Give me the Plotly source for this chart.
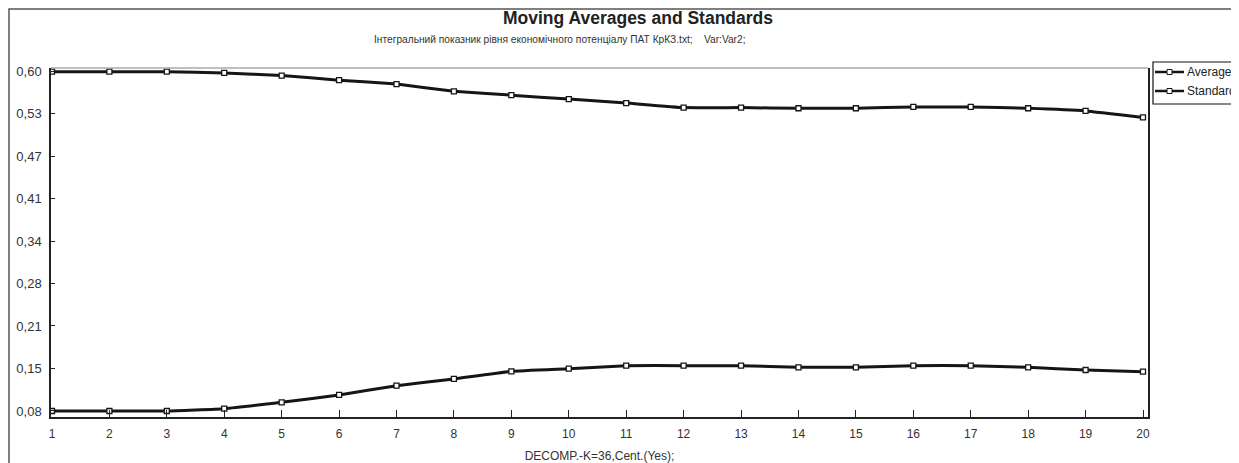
import numpy as np
import plotly.graph_objects as go

# ---- data ----
steps = list(range(1, 21))
average = [0.599, 0.599, 0.599, 0.597, 0.593, 0.586, 0.580, 0.569, 0.563, 0.557,
           0.551, 0.544, 0.544, 0.543, 0.543, 0.545, 0.545, 0.543, 0.539, 0.529]
standard = [0.080, 0.080, 0.080, 0.0835, 0.0933, 0.1045, 0.1187, 0.129, 0.1407, 0.1447,
            0.1493, 0.1493, 0.1493, 0.1468, 0.1468, 0.1493, 0.1493, 0.1468, 0.1427, 0.1402]
y_tick_text = ["0,08", "0,15", "0,21", "0,28", "0,34", "0,41", "0,47", "0,53", "0,60"]
x_tick_text = [str(s) for s in steps]
series_names = ["Average", "Standard"]

title = "Moving Averages and Standards"
subtitle = "Інтегральний показник рівня економічного потенціалу ПАТ КрКЗ.txt;    Var:Var2;"
x_title = "DECOMP.-K=36,Cent.(Yes);"

FONT = "Liberation Sans, Arial, sans-serif"
NARROW = "Liberation Sans Narrow, Arial Narrow, Liberation Sans, sans-serif"
OFF = 8                      # page body margin
W, H = 1239 - OFF, 463 - OFF
ml, mr, mt, mb = 43, 91, 60, 46
pw, ph = W - ml - mr, H - mt - mb

def px_x(p):                 # screenshot pixel -> paper x
    return (p - OFF - ml) / pw

def px_y(p):                 # screenshot pixel -> paper y
    return (H - mb - (p - OFF)) / ph

fig = go.Figure()
for name, vals in zip(series_names, [average, standard]):
    fig.add_trace(go.Scatter(
        x=steps, y=vals, name=name, mode="lines+markers",
        line=dict(color="#151515", width=3, shape="spline", smoothing=0.3),
        marker=dict(symbol="square", size=5, color="white",
                    line=dict(color="#151515", width=1.3)),
        showlegend=False,
    ))

y_ticks = np.linspace(0.08, 0.60, len(y_tick_text))

shapes = [
    dict(type="line", xref="paper", yref="paper", x0=0, x1=1, y0=1, y1=1,
         line=dict(color="#aaa", width=1.5)),
    dict(type="rect", xref="paper", yref="paper",
         x0=px_x(9), x1=px_x(1260), y0=px_y(9), y1=px_y(480),
         line=dict(color="#555", width=1.5), layer="below"),
    # legend box
    dict(type="rect", xref="paper", yref="paper",
         x0=px_x(1153), x1=px_x(1260), y0=px_y(62), y1=px_y(104),
         line=dict(color="#111", width=1.2), fillcolor="white"),
]
annotations = [
    dict(text="<b>" + title + "</b>", xref="paper", yref="paper",
         x=px_x(638), y=px_y(18), xanchor="center", yanchor="middle",
         showarrow=False, font=dict(family=FONT, size=17.5, color="#222")),
    dict(text=subtitle, xref="paper", yref="paper",
         x=px_x(560), y=px_y(40), xanchor="center", yanchor="middle",
         showarrow=False, font=dict(family=FONT, size=10.2, color="#333")),
]
for i, name in enumerate(series_names):
    yy = 72 + 19 * i
    shapes.append(dict(type="line", xref="paper", yref="paper",
                       x0=px_x(1155), x1=px_x(1184), y0=px_y(yy), y1=px_y(yy),
                       line=dict(color="#151515", width=2.5)))
    shapes.append(dict(type="rect", xref="paper", yref="paper",
                       x0=px_x(1167), x1=px_x(1172), y0=px_y(yy - 2.5), y1=px_y(yy + 2.5),
                       line=dict(color="#151515", width=1), fillcolor="white"))
    annotations.append(dict(text=name, xref="paper", yref="paper",
                            x=px_x(1185), y=px_y(yy), xanchor="left", yanchor="middle",
                            showarrow=False, font=dict(family=FONT, size=12, color="#222")))

fig.update_layout(
    width=W, height=H,
    margin=dict(l=ml, r=mr, t=mt, b=mb, autoexpand=False),
    paper_bgcolor="white", plot_bgcolor="white",
    font=dict(family=FONT, size=12, color="#222"),
    showlegend=False,
    xaxis=dict(
        range=[0.983, 20.087], tickvals=steps, ticktext=x_tick_text,
        showgrid=False, zeroline=False, showline=True, linecolor="#222", linewidth=1.5,
        ticks="inside", ticklen=7, tickcolor="#222", tickwidth=1, automargin=False,
        ticklabelstandoff=5,
        tickfont=dict(size=12, color="#333"),
        title=dict(text=x_title, font=dict(family=NARROW, size=12, color="#333"), standoff=12),
    ),
    yaxis=dict(
        range=[0.0708, 0.6046], tickvals=y_ticks, ticktext=y_tick_text,
        showgrid=False, zeroline=False, showline=True, linecolor="#222", linewidth=1.5,
        mirror=True, automargin=False,
        ticks="inside", ticklen=4, tickcolor="#222", tickwidth=1,
        ticklabelstandoff=5,
        tickfont=dict(size=13, color="#333"),
    ),
    shapes=shapes,
    annotations=annotations,
)

fig.write_html("out.html")
